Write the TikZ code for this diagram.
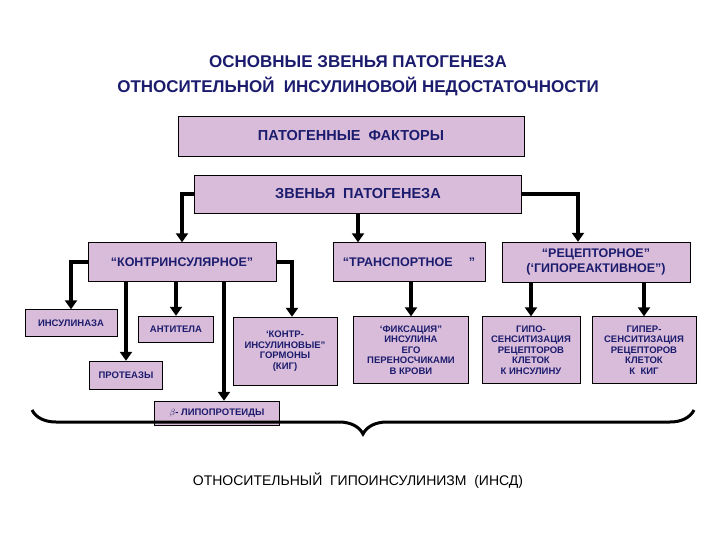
\documentclass[tikz,border=0pt]{standalone}
\usepackage{fontspec}
\setmainfont{Liberation Sans}
\usetikzlibrary{arrows.meta,decorations.pathreplacing}
\definecolor{boxfill}{HTML}{D9BCD9}
\definecolor{ink}{HTML}{1C1C6E}
\tikzset{
  box/.style = {draw=black, fill=boxfill, align=center, inner sep=0pt,
    font=\sffamily\bfseries, text=ink},% box of the scheme
  big/.style = {box, font=\fontsize{14.5}{17}\selectfont\bfseries},
  mid/.style = {box, font=\fontsize{12.5}{15}\selectfont\bfseries},
  small/.style = {box, font=\fontsize{9.5}{10.5}\selectfont\bfseries},
  arr/.style = {line width=3.6pt, -{Triangle[length=9pt,width=12pt]}}
}
\begin{document}
\begin{tikzpicture}[x=1pt,y=-1pt]
	\useasboundingbox (0,0) rectangle (720,540);
	\fill[white] (0,0) rectangle (720,540);
	\node[font=\fontsize{17}{19}\selectfont\bfseries, text=ink, align=center] (title) at (358,76)
	  {ОСНОВНЫЕ ЗВЕНЬЯ ПАТОГЕНЕЗА\\[6pt]ОТНОСИТЕЛЬНОЙ \ ИНСУЛИНОВОЙ НЕДОСТАТОЧНОСТИ};
	\node[big, minimum width=346, minimum height=40] (factors) at (351,136) {ПАТОГЕННЫЕ \ ФАКТОРЫ};
	\node[big, minimum width=327, minimum height=38] (links) at (358,194) {ЗВЕНЬЯ \ ПАТОГЕНЕЗА};
	\node[mid, minimum width=188, minimum height=39] (contra) at (182,262) {“КОНТРИНСУЛЯРНОЕ”};
	\node[mid, minimum width=152, minimum height=39] (transp) at (409,262) {“ТРАНСПОРТНОЕ \quad ”};
	\node[mid, minimum width=188, minimum height=40] (recep) at (596,262) {“РЕЦЕПТОРНОЕ”\\(‘ГИПОРЕАКТИВНОЕ”)};
	\node[small, minimum width=92, minimum height=27] (insulinase) at (71,323) {ИНСУЛИНАЗА};
	\node[small, minimum width=73, minimum height=28] (protease) at (126,375) {ПРОТЕАЗЫ};
	\node[small, minimum width=75, minimum height=26] (antibody) at (176,329) {АНТИТЕЛА};
	\node[small, minimum width=125, minimum height=24] (lipo) at (217,413) {$\beta$- ЛИПОПРОТЕИДЫ};
	\node[small, minimum width=104, minimum height=68] (hormones) at (285,351) {‘КОНТР-\\ИНСУЛИНОВЫЕ”\\ГОРМОНЫ\\(КИГ)};
	\node[small, minimum width=115, minimum height=67] (fixation) at (411,350) {‘ФИКСАЦИЯ”\\ИНСУЛИНА\\ЕГО\\ПЕРЕНОСЧИКАМИ\\В КРОВИ};
	\node[small, minimum width=98, minimum height=67] (hypo) at (531,350) {ГИПО-\\СЕНСИТИЗАЦИЯ\\РЕЦЕПТОРОВ\\КЛЕТОК\\К ИНСУЛИНУ};
	\node[small, minimum width=104, minimum height=67] (hyper) at (644,350) {ГИПЕР-\\СЕНСИТИЗАЦИЯ\\РЕЦЕПТОРОВ\\КЛЕТОК\\К \ КИГ};
	\node[font=\fontsize{14}{16}\selectfont, text=black] (result) at (358,481) {ОТНОСИТЕЛЬНЫЙ \ ГИПОИНСУЛИНИЗМ \ (ИНСД)};
	% connectors
	\draw[arr] (links.west) -| (contra.north);
	\draw[arr] (links.south) -- (links.south |- transp.north);
	\draw[arr] (links.east) -| ([xshift=-18pt]recep.north);
	\draw[arr] (contra.west) -| (insulinase.north);
	\draw[arr] (protease.north |- contra.south) -- (protease.north);
	\draw[arr] (antibody.north |- contra.south) -- (antibody.north);
	\draw[arr] ([xshift=7pt]lipo.north |- contra.south) -- ([xshift=7pt]lipo.north);
	\draw[arr] (contra.east) -| ([xshift=7pt]hormones.north);
	\draw[arr] (fixation.north |- transp.south) -- (fixation.north);
	\draw[arr] (hypo.north |- recep.south) -- (hypo.north);
	\draw[arr] (hyper.north |- recep.south) -- (hyper.north);
	% brace
	\draw[line width=3pt, decorate, decoration={brace, mirror, amplitude=24pt}] (32,410) -- (694,410);
\end{tikzpicture}
\end{document}
